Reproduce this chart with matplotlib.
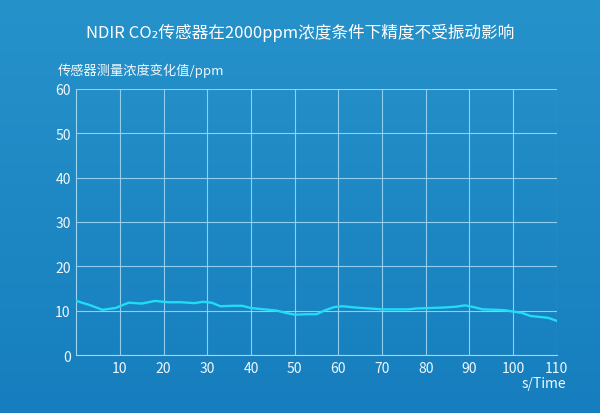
import numpy as np
import matplotlib
matplotlib.use("Agg")
import matplotlib.pyplot as plt

plt.rcParams['font.family'] = ['Noto Sans CJK SC', 'DejaVu Sans']

# 数据
time_s = [0, 3, 6, 9, 12, 15, 18, 21, 24, 27, 29, 31, 33, 36, 38, 40, 43, 46, 48, 50,
          53, 55, 57, 59, 61, 64, 67, 70, 73, 76, 78, 81, 84, 87, 89, 91, 93, 96, 98,
          100, 102, 104, 106, 108, 110]
ppm_change = [12.2, 11.3, 10.2, 10.6, 11.8, 11.6, 12.2, 11.9, 11.9, 11.7, 12.0, 11.8,
              11.0, 11.1, 11.1, 10.6, 10.3, 10.0, 9.5, 9.1, 9.2, 9.2, 10.1, 10.8, 11.0,
              10.7, 10.5, 10.3, 10.3, 10.3, 10.5, 10.6, 10.7, 10.9, 11.2, 10.8, 10.3,
              10.2, 10.1, 9.8, 9.5, 8.8, 8.6, 8.4, 7.7]
x_ticks = [10, 20, 30, 40, 50, 60, 70, 80, 90, 100, 110]
y_ticks = [0, 10, 20, 30, 40, 50, 60]

title = "NDIR CO₂传感器在2000ppm浓度条件下精度不受振动影响"
y_label = "传感器测量浓度变化值/ppm"
x_label = "s/Time"

fig = plt.figure(figsize=(6, 4.14), dpi=100)

# 背景渐变
bg = fig.add_axes([0, 0, 1, 1], zorder=-10)
grad = np.linspace(0, 1, 256).reshape(-1, 1)
top = np.array([38, 146, 202]) / 255
bottom = np.array([22, 126, 190]) / 255
img = top + (bottom - top) * grad[:, :, None]
bg.imshow(img, aspect='auto', extent=[0, 1, 0, 1])
bg.axis('off')

ax = fig.add_axes([0.127, 0.14, 0.801, 0.643])
ax.patch.set_alpha(0)

grid_c = '#9fd6f2'
ax.plot(time_s, ppm_change, color='#22dcf5', lw=1.7, zorder=3)

ax.set_xlim(0, 110)
ax.set_ylim(0, 60)
ax.set_xticks(x_ticks)
ax.set_yticks(y_ticks)
ax.grid(True, color=grid_c, lw=0.8, alpha=0.9)
for s in ax.spines.values():
    s.set_color(grid_c)
    s.set_linewidth(0.8)
ax.spines['top'].set_visible(False)
ax.spines['right'].set_visible(False)
ax.tick_params(length=0, colors='#f0f8fd', labelsize=10, pad=4)

fig.text(0.5, 0.921, title, ha='center', va='center', color='white', fontsize=12)
fig.text(0.097, 0.830, y_label, ha='left', va='center', color='#f0f8fd', fontsize=9.5)
fig.text(0.943, 0.072, x_label, ha='right', va='center', color='#f0f8fd', fontsize=10)

fig.savefig("out.png", dpi=100)
